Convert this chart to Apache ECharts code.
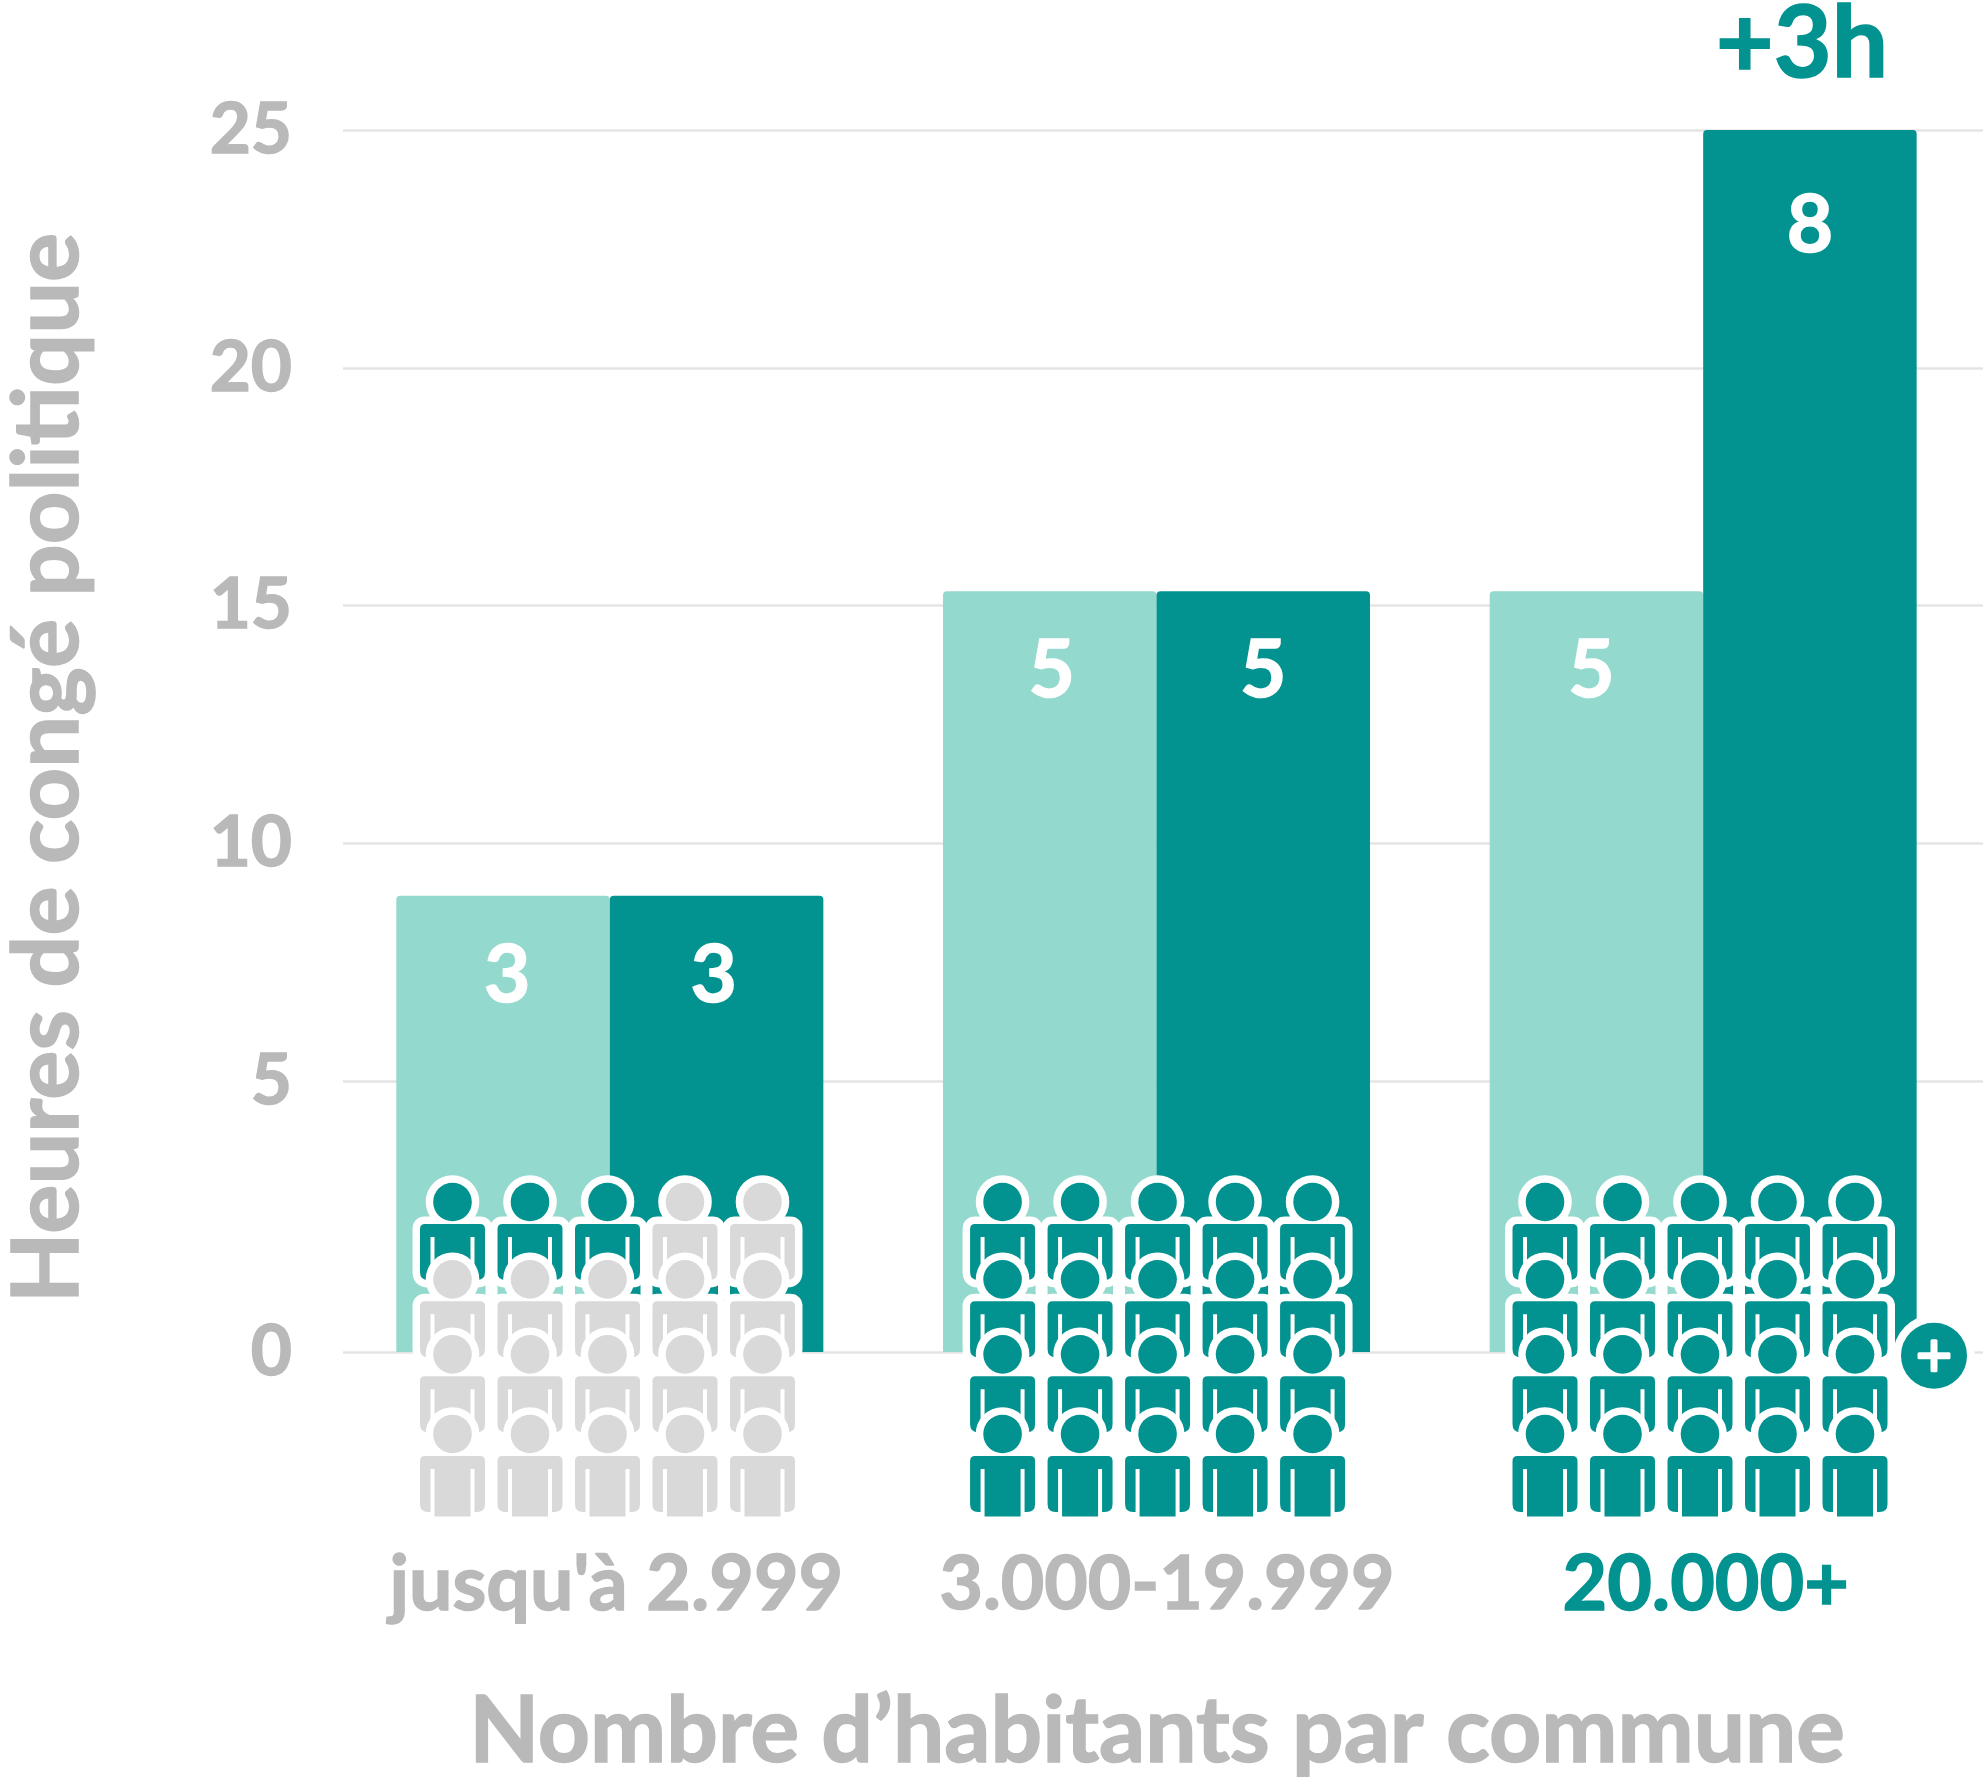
<!DOCTYPE html>
<html><head><meta charset="utf-8">
<style>html,body{margin:0;padding:0;background:#fff}#c{width:1983px;height:1777px}</style>
<script src="https://cdn.jsdelivr.net/npm/echarts@6/dist/echarts.min.js"></script>
</head><body><div id="c"></div>
<script>
const categories = ["jusqu'à 2.999", "3.000-19.999", "20.000+"];
const lightValues = [8.9, 15.3, 15.3];
const darkValues = [8.9, 15.3, 25];
const lightLabels = ["3", "5", "5"];
const darkLabels = ["3", "5", "8"];
const axisFloor = -0.694;
const tickValues = [axisFloor, 5, 10, 15, 20, 25];
const peopleTeal = [3, 20, 20];
const iconGroupPos = [0, 1.007, 2];
const iconRowPos = [0, 1, 1.97, 3];
const yTitle = "Heures de congé politique";
const xTitle = "Nombre d’habitants par commune";
const gainLabel = "+3h";

const TEAL = '#029390', LIGHT = '#94d9cd', GREY = '#d9d9d9', TXT = '#b9b9b9';
const FONT = 'Lato';
const heavy = c => ({color: c, fontFamily: FONT, fontWeight: 'bold', textBorderColor: c, textBorderWidth: 1.5});

const people = [];
iconGroupPos.forEach((g, gi) => {
  for (let r = 0; r < 4; r++) for (let c = 0; c < 5; c++) {
    people.push([g, iconRowPos[r], c, r * 5 + c < peopleTeal[gi] ? 1 : 0]);
  }
});
const BODY = 'M-27.5 22H27.5Q32.5 22 32.5 27V70Q32.5 78 24.5 78H22V35H18V82.5H-18V35H-22V78H-24.5Q-32.5 78 -32.5 70V27Q-32.5 22 -27.5 22Z';
function renderPerson(params, api) {
  const p = api.coord([api.value(0), api.value(1)]);
  const x = p[0] + (api.value(2) - 2) * 77.5, y = p[1];
  const col = api.value(3) ? TEAL : GREY;
  const bodyShape = {pathData: BODY, x: x - 32.5, y: y + 22, width: 65, height: 60.5, layout: 'cover'};
  const head = {cx: x, cy: y, r: 19.3};
  const ol = {fill: '#fff', stroke: '#fff', lineWidth: 15, lineJoin: 'round'};
  const kids = [
    {type: 'path', shape: bodyShape, style: ol},
    {type: 'circle', shape: head, style: ol}
  ];
  if (api.value(2) < 4) kids.push({type: 'rect', shape: {x: x + 33, y: y + 60, width: 12, height: 38}, style: {fill: '#fff'}});
  kids.push({type: 'path', shape: bodyShape, style: {fill: col}}, {type: 'circle', shape: head, style: {fill: col}});
  return {type: 'group', children: kids};
}
function barSeries(name, vals, labels, color, shifts) {
  return {name, type: 'bar', xAxisIndex: 1, yAxisIndex: 1, stack: name, barWidth: 213.5, barGap: 0, z: 3,
    data: vals.map((v, i) => ({value: v, label: {position: ['50%', labels[i] === '8' ? 66 : 50], offset: [shifts[i], 0]}})),
    itemStyle: {color, borderRadius: [4, 4, 0, 0]},
    label: {show: true, align: 'center', ...heavy('#fff'), fontSize: 80, lineHeight: 60,
      formatter: p => labels[p.dataIndex]}};
}
function baseSeries(name, color) {
  return {name: name + ' base', type: 'bar', xAxisIndex: 1, yAxisIndex: 1, stack: name, barWidth: 213.5, barGap: 0, z: 3,
    data: categories.map(() => axisFloor), itemStyle: {color}, silent: true};
}
const chart = echarts.init(document.getElementById('c'), null, {renderer: 'canvas'});
chart.setOption({
  animation: false,
  backgroundColor: '#fff',
  grid: [
    {left: 343, right: 0, top: 130, bottom: 425, outerBoundsMode: 'none'},
    {left: 336.5, width: 1640, top: 130, bottom: 425, outerBoundsMode: 'none'},
    {left: 607.5, width: 1092.5, top: 1202, height: 232, outerBoundsMode: 'none'}
  ],
  xAxis: [
    {type: 'category', gridIndex: 0, data: categories.map((c, i) => ({value: c,
        textStyle: {...heavy(i === 2 ? TEAL : TXT), fontSize: i === 1 ? 75 : 77, padding: i === 0 ? 0 : i === 1 ? [0, 0, 0, 8] : [0, 8, 0, 0]}})),
      axisLine: {show: false}, axisTick: {show: false},
      axisLabel: {interval: 0, hideOverlap: false, margin: 198, lineHeight: 70},
      name: xTitle, nameLocation: 'middle', nameGap: 335,
      nameTextStyle: {...heavy(TXT), fontSize: 91, padding: [0, 12, 0, 0]}},
    {type: 'category', gridIndex: 1, data: categories, show: false},
    {type: 'value', gridIndex: 2, min: 0, max: 2, show: false}
  ],
  yAxis: [
    {type: 'value', gridIndex: 0, min: axisFloor, max: 25,
      axisLine: {show: false},
      axisTick: {show: false, customValues: tickValues},
      splitLine: {show: true, lineStyle: {color: '#e4e4e4', width: 2.5}},
      axisLabel: {customValues: tickValues, margin: 51, ...heavy(TXT), fontSize: 71,
        formatter: v => v < 0 ? '0' : String(v)},
      name: yTitle, nameLocation: 'middle', nameRotate: 90, nameGap: 249,
      nameTextStyle: {...heavy(TXT), fontSize: 92, padding: [0, 54, 0, 0]}},
    {type: 'value', gridIndex: 1, min: axisFloor, max: 25, show: false},
    {type: 'value', gridIndex: 2, min: 0, max: 3, inverse: true, show: false}
  ],
  series: [
    baseSeries('light', LIGHT), baseSeries('dark', TEAL),
    barSeries('light', lightValues, lightLabels, LIGHT, [4, 2, -5]),
    barSeries('dark', darkValues, darkLabels, TEAL, [-3, 0, 0]),
    {type: 'custom', xAxisIndex: 2, yAxisIndex: 2, z: 5, data: people, renderItem: renderPerson, silent: true}
  ],
  graphic: [
    {type: 'text', z: 10, style: {x: 1802, y: 45, text: gainLabel, fill: TEAL, stroke: TEAL, lineWidth: 1.5, font: 'bold 100px Lato', textAlign: 'center', textVerticalAlign: 'middle'}},
    {type: 'circle', z: 10, shape: {cx: 1934, cy: 1355.7, r: 37}, style: {fill: TEAL, stroke: '#fff', lineWidth: 8}},
    {type: 'rect', z: 11, shape: {x: 1917.5, y: 1352.2, width: 33, height: 7, r: 1.5}, style: {fill: '#fff'}},
    {type: 'rect', z: 11, shape: {x: 1930.5, y: 1339.2, width: 7, height: 33, r: 1.5}, style: {fill: '#fff'}}
  ]
});
</script></body></html>
